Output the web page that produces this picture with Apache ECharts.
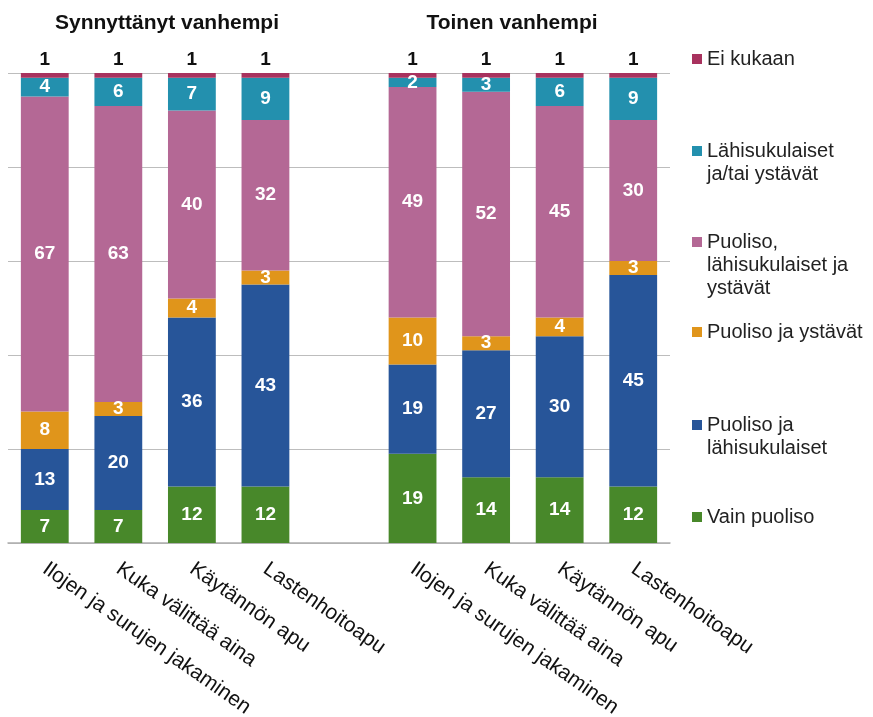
<!DOCTYPE html>
<html>
<head>
<meta charset="utf-8">
<script src="https://cdn.jsdelivr.net/npm/echarts@6/dist/echarts.min.js"></script>
<style>
  html, body { margin: 0; padding: 0; background: #fff; }
  #chart { width: 873px; height: 717px; }
</style>
</head>
<body>
<div id="chart"></div>
<script>
// ── Data ──
const categories = [
  "Ilojen ja surujen jakaminen", "Kuka välittää aina", "Käytännön apu", "Lastenhoitoapu",
  "",
  "Ilojen ja surujen jakaminen ", "Kuka välittää aina ", "Käytännön apu ", "Lastenhoitoapu ",
];
const groupTitles = ["Synnyttänyt vanhempi", "Toinen vanhempi"];

const seriesNames = [
  "Vain puoliso",
  "Puoliso ja lähisukulaiset",
  "Puoliso ja ystävät",
  "Puoliso, lähisukulaiset ja ystävät",
  "Lähisukulaiset ja/tai ystävät",
  "Ei kukaan",
];
const legendLabels = [
  "Vain puoliso",
  "Puoliso ja\nlähisukulaiset",
  "Puoliso ja ystävät",
  "Puoliso,\nlähisukulaiset ja\nystävät",
  "Lähisukulaiset\nja/tai ystävät",
  "Ei kukaan",
];

const vainPuoliso   = [7, 7, 12, 12, "-", 19, 14, 14, 12];
const puolisoLahi   = [13, 20, 36, 43, "-", 19, 27, 30, 45];
const puolisoYst    = [8, 3, 4, 3, "-", 10, 3, 4, 3];
const puolisoKaikki = [67, 63, 40, 32, "-", 49, 52, 45, 30];
const lahiYst       = [4, 6, 7, 9, "-", 2, 3, 6, 9];
const eiKukaan      = [1, 1, 1, 1, "-", 1, 1, 1, 1];

const seriesData = [vainPuoliso, puolisoLahi, puolisoYst, puolisoKaikki, lahiYst, eiKukaan];

// ── Colours ──
const COLORS = ["#48882A", "#275599", "#E0951B", "#B46895", "#2390AE", "#A8325E"];
const FONT = "'Liberation Sans', Arial, sans-serif";

// legend: y of the first text line (icon sits on it)
const legendY = [517, 425, 332, 242, 151, 59];
const LINE_H = 23;

const chart = echarts.init(document.getElementById("chart"));

// ECharts centres the legend text on the icon, so pad the text with blank
// lines above to keep the icon on the first line
const legends = seriesNames.map((name, i) => {
  const n = legendLabels[i].split("\n").length;
  const blockH = (2 * n - 1) * LINE_H;
  return {
    data: [name],
    left: 692,
    top: legendY[i] - blockH / 2,
    padding: 0,
    itemWidth: 10,
    itemHeight: 10,
    icon: "rect",
    selectedMode: false,
    formatter: () => "\n".repeat(n - 1) + legendLabels[i],
    textStyle: {
      fontFamily: FONT,
      fontSize: 20,
      color: "#222",
      lineHeight: LINE_H,
    },
  };
});

const series = seriesNames.map((name, i) => {
  const top = i === seriesNames.length - 1;
  return {
    name,
    type: "bar",
    stack: "total",
    barWidth: "65%",
    data: seriesData[i],
    itemStyle: { color: COLORS[i] },
    label: {
      show: true,
      position: top ? "top" : "inside",
      distance: 4,
      color: top ? "#111" : "#fff",
      fontFamily: FONT,
      fontWeight: "bold",
      fontSize: 19,
    },
  };
});

chart.setOption({
  animation: false,
  title: [
    { text: groupTitles[0], left: 162, top: 8, textAlign: "center",
      textStyle: { fontFamily: FONT, fontSize: 21, fontWeight: "bold", color: "#111" } },
    { text: groupTitles[1], left: 507, top: 8, textAlign: "center",
      textStyle: { fontFamily: FONT, fontSize: 21, fontWeight: "bold", color: "#111" } },
  ],
  legend: legends,
  grid: { left: 8, right: 203, top: 73, bottom: 174, outerBoundsMode: "none" },
  xAxis: {
    type: "category",
    data: categories,
    axisLine: { lineStyle: { color: "#ADADAD", width: 1.5 } },
    axisTick: { show: false },
    axisLabel: {
      interval: 0,
      rotate: -35,
      margin: 24,
      fontFamily: FONT,
      fontSize: 21,
      color: "#111",
    },
  },
  yAxis: {
    type: "value",
    min: 0,
    max: 100,
    interval: 20,
    axisLabel: { show: false },
    axisLine: { show: false },
    axisTick: { show: false },
    splitLine: { lineStyle: { color: "#BDBDBD", width: 1.2 } },
  },
  series,
});
</script>
</body>
</html>
